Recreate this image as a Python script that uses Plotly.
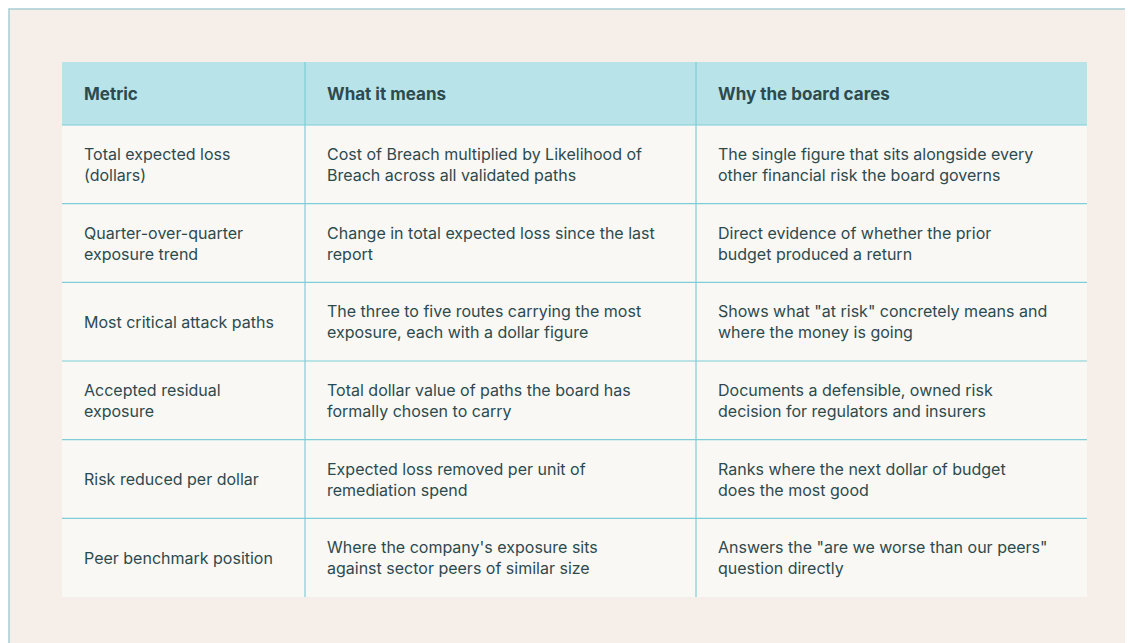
import plotly.graph_objects as go

headers = ["Metric", "What it means", "Why the board cares"]
metrics = [
    "Total expected loss<br>(dollars)",
    "Quarter-over-quarter<br>exposure trend",
    "Most critical attack paths",
    "Accepted residual<br>exposure",
    "Risk reduced per dollar",
    "Peer benchmark position",
]
meanings = [
    "Cost of Breach multiplied by Likelihood of<br>Breach across all validated paths",
    "Change in total expected loss since the last<br>report",
    "The three to five routes carrying the most<br>exposure, each with a dollar figure",
    "Total dollar value of paths the board has<br>formally chosen to carry",
    "Expected loss removed per unit of<br>remediation spend",
    "Where the company's exposure sits<br>against sector peers of similar size",
]
reasons = [
    "The single figure that sits alongside every<br>other financial risk the board governs",
    "Direct evidence of whether the prior<br>budget produced a return",
    "Shows what \"at risk\" concretely means and<br>where the money is going",
    "Documents a defensible, owned risk<br>decision for regulators and insurers",
    "Ranks where the next dollar of budget<br>does the most good",
    "Answers the \"are we worse than our peers\"<br>question directly",
]

W, H = 1133, 643
x0, x1 = 54, 1079
y0, hdr = 54, 117
row_h = (589 - 117) / 6
col_x = [54, 297, 688, 1079]
pad = 20
text_col = "#2d4a4e"
line_col = "#7fcdd6"

fig = go.Figure()
shapes = [
    dict(type="rect", x0=1, y0=1, x1=W - 2, y1=H - 2, line=dict(color="#a9cdd3", width=1.5),
         fillcolor="#f6efe9", layer="below"),
    dict(type="rect", x0=x0, y0=y0, x1=x1, y1=hdr, line=dict(width=0), fillcolor="#b8e3e9", layer="below"),
    dict(type="rect", x0=x0, y0=hdr, x1=x1, y1=589, line=dict(width=0), fillcolor="#f9f8f5", layer="below"),
]
for i in range(6):
    y = hdr + i * row_h
    shapes.append(dict(type="line", x0=x0, x1=x1, y0=y, y1=y, line=dict(color=line_col, width=1.2)))
for cx in col_x[1:3]:
    shapes.append(dict(type="line", x0=cx, x1=cx, y0=y0, y1=589, line=dict(color=line_col, width=1.2)))

annotations = []
for j, h in enumerate(headers):
    annotations.append(dict(x=col_x[j] + pad, y=(y0 + hdr) / 2, text="<b>" + h + "</b>",
                            xanchor="left", yanchor="middle", showarrow=False,
                            font=dict(family="Inter", size=17, color=text_col)))
for i, row in enumerate(zip(metrics, meanings, reasons)):
    yc = hdr + (i + 0.5) * row_h
    for j, t in enumerate(row):
        annotations.append(dict(x=col_x[j] + pad, y=yc, text=t, align="left",
                                xanchor="left", yanchor="middle", showarrow=False,
                                font=dict(family="Inter", size=16, color=text_col)))

fig.update_layout(
    width=W, height=H, margin=dict(l=0, r=0, t=0, b=0),
    paper_bgcolor="white", plot_bgcolor="white",
    xaxis=dict(range=[0, W], visible=False, fixedrange=True),
    yaxis=dict(range=[H, 0], visible=False, fixedrange=True),
    shapes=shapes, annotations=annotations, showlegend=False,
)
fig.write_html("out.html")
